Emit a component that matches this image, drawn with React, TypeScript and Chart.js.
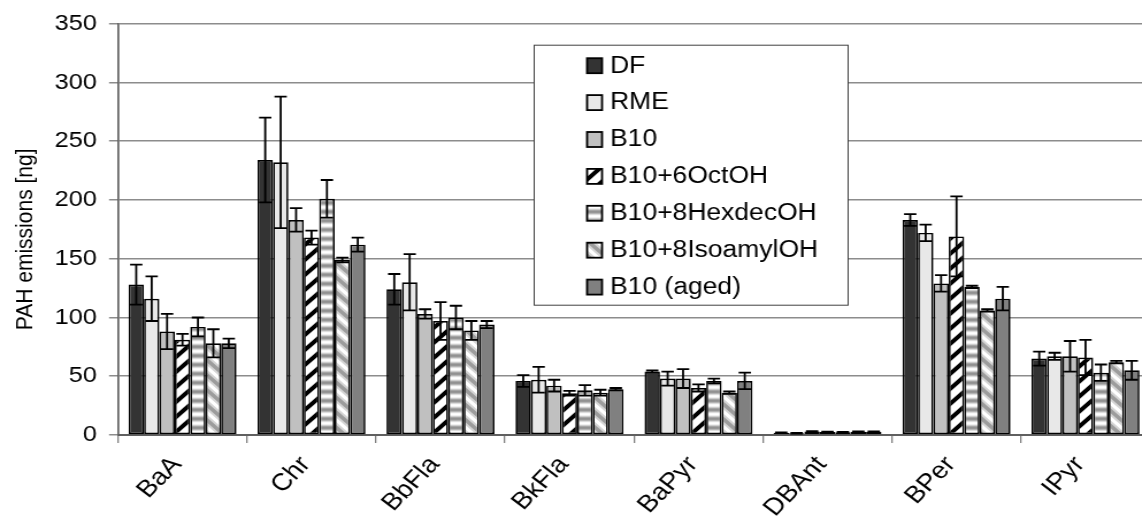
import React, { useEffect, useRef } from 'react';
import { Chart, registerables } from 'chart.js';

Chart.register(...registerables);

const categories = ['BaA', 'Chr', 'BbFla', 'BkFla', 'BaPyr', 'DBAnt', 'BPer', 'IPyr'];
const seriesNames = ['DF', 'RME', 'B10', 'B10+6OctOH', 'B10+8HexdecOH', 'B10+8IsoamylOH', 'B10 (aged)'];
const yAxisTitle = 'PAH emissions [ng]';

const dfValues = [128, 234, 124, 46, 54, 2, 183, 65];
const dfErrors = [17, 36, 13, 5, 1, 0.3, 5, 6];
const rmeValues = [116, 232, 130, 47, 48, 1.5, 172, 67];
const rmeErrors = [19, 56, 24, 11, 6, 0.3, 7, 3];
const b10Values = [88, 183, 103, 42, 48, 3, 129, 67];
const b10Errors = [15, 10, 4, 5, 8, 0.3, 7, 13];
const octValues = [81, 168, 97, 35.5, 40, 2.5, 169, 66];
const octErrors = [5, 6, 16, 2, 3, 0.3, 34, 15];
const hexValues = [92, 201, 100, 38, 46, 2.3, 126, 53];
const hexErrors = [8, 16, 10, 4.5, 2, 0.3, 1, 7];
const isoValues = [78, 149, 89, 36, 36, 2.8, 106, 62];
const isoErrors = [12, 2, 8, 2.5, 1, 0.3, 1, 1];
const agedValues = [78, 162, 94, 39, 46, 2.8, 116, 55];
const agedErrors = [4, 6, 3, 1, 7, 0.3, 10, 8];

const yMin = 0;
const yMax = 350;
const yStep = 50;

const FONT = "'Liberation Sans', Arial, sans-serif";

// The reference looks horizontally stretched: draw at a narrower intrinsic width, show wider.
const STRETCH = 1.15;
const SHOW_W = 1150;
const SHOW_H = 529;
const CANVAS_W = Math.round(SHOW_W / STRETCH);
const LABEL_ROT = (Math.atan(STRETCH) * 180) / Math.PI; // appears as 45deg after stretch

function makeCanvas(w: number, h: number) {
  const c = document.createElement('canvas');
  c.width = w;
  c.height = h;
  return c;
}

function diagPattern(ctx: CanvasRenderingContext2D, dir: 'up' | 'down', color: string, lw: number, soft: string | null) {
  const s = 15;
  const c = makeCanvas(s, s);
  const g = c.getContext('2d')!;
  g.fillStyle = '#ffffff';
  g.fillRect(0, 0, s, s);
  const drawLines = (col: string, w: number) => {
    g.strokeStyle = col;
    g.lineWidth = w;
    g.beginPath();
    for (let k = -1; k <= 1; k++) {
      if (dir === 'up') {
        g.moveTo(-s + k * s, 2 * s);
        g.lineTo(2 * s + k * s, -s);
      } else {
        g.moveTo(-s + k * s, -s);
        g.lineTo(2 * s + k * s, 2 * s);
      }
    }
    g.stroke();
  };
  if (soft) drawLines(soft, lw + 4);
  drawLines(color, lw);
  return ctx.createPattern(c, 'repeat')!;
}

function hStripePattern(ctx: CanvasRenderingContext2D) {
  const rows = [255, 240, 205, 165, 145, 150, 180, 220, 250];
  const c = makeCanvas(4, rows.length);
  const g = c.getContext('2d')!;
  rows.forEach((v, i) => {
    g.fillStyle = `rgb(${v},${v},${v})`;
    g.fillRect(0, i, 4, 1);
  });
  return ctx.createPattern(c, 'repeat')!;
}

export default function App() {
  const ref = useRef<HTMLCanvasElement>(null);

  useEffect(() => {
    const canvas = ref.current!;
    const ctx = canvas.getContext('2d')!;

    const fills: (string | CanvasPattern)[] = [
      '#333333',
      '#e8e8e8',
      '#c0c0c0',
      diagPattern(ctx, 'up', '#000000', 4, null),
      hStripePattern(ctx),
      diagPattern(ctx, 'down', '#9c9c9c', 3.5, '#d4d4d4'),
      '#808080',
    ];
    const valueSets = [dfValues, rmeValues, b10Values, octValues, hexValues, isoValues, agedValues];
    const errorSets = [dfErrors, rmeErrors, b10Errors, octErrors, hexErrors, isoErrors, agedErrors];

    const errorBarPlugin = {
      id: 'errorBars',
      afterDatasetsDraw(chart: any) {
        const c = chart.ctx;
        const ys = chart.scales.y;
        chart.data.datasets.forEach((ds: any, i: number) => {
          const meta = chart.getDatasetMeta(i);
          meta.data.forEach((bar: any, j: number) => {
            const v = ds.data[j];
            const e = errorSets[i][j];
            const hi = ys.getPixelForValue(v + e);
            const lo = ys.getPixelForValue(Math.max(0, v - e));
            const half = bar.width * 0.4;
            c.save();
            c.strokeStyle = '#000';
            c.lineWidth = 1.8;
            c.beginPath();
            c.moveTo(bar.x, hi);
            c.lineTo(bar.x, lo);
            c.moveTo(bar.x - half, hi);
            c.lineTo(bar.x + half, hi);
            c.moveTo(bar.x - half, lo);
            c.lineTo(bar.x + half, lo);
            c.stroke();
            c.restore();
          });
        });
      },
    };

    const overlayPlugin = {
      id: 'overlay',
      afterDraw(chart: any) {
        const c = chart.ctx;
        const ca = chart.chartArea;
        // y-axis title
        c.save();
        c.translate(22.5, (ca.top + ca.bottom) / 2 + 10);
        c.rotate(-Math.PI / 2);
        c.fillStyle = '#000';
        c.font = `21px ${FONT}`;
        c.textAlign = 'center';
        c.textBaseline = 'middle';
        c.fillText(yAxisTitle, 0, 0);
        c.restore();

        // legend box
        const bx = Math.round(ca.left + 361.7) + 0.5;
        const by = ca.top + 21.5;
        const bw = 273;
        const bh = 260;
        c.save();
        c.fillStyle = '#ffffff';
        c.fillRect(bx, by, bw, bh);
        c.strokeStyle = '#404040';
        c.lineWidth = 1;
        c.strokeRect(bx, by, bw, bh);
        seriesNames.forEach((name, i) => {
          const cy = by + 20 + 36.9 * i;
          c.fillStyle = fills[i];
          c.fillRect(bx + 46, cy - 7, 13, 15);
          c.lineWidth = 1.8;
          c.strokeStyle = '#000';
          c.strokeRect(bx + 46, cy - 7, 13, 15);
          c.fillStyle = '#000';
          c.font = `23px ${FONT}`;
          c.textBaseline = 'middle';
          c.textAlign = 'left';
          c.fillText(name, bx + 66, cy + 1);
        });
        c.restore();
      },
    };

    const chart = new Chart(canvas, {
      type: 'bar',
      data: {
        labels: categories,
        datasets: seriesNames.map((name, i) => ({
          label: name,
          data: valueSets[i],
          backgroundColor: fills[i] as any,
          borderColor: '#000000',
          borderWidth: 1.7,
          borderSkipped: false,
          categoryPercentage: 0.837,
          barPercentage: 1,
        })),
      },
      options: {
        animation: false,
        responsive: false,
        devicePixelRatio: 1,
        layout: { padding: { top: 23.5, left: 0, right: 0, bottom: 0 } },
        plugins: {
          legend: { display: false },
          tooltip: { enabled: false },
        },
        scales: {
          x: {
            grid: {
              display: true,
              drawOnChartArea: false,
              offset: true,
              tickLength: 8,
              color: '#808080',
              lineWidth: 1.3,
            },
            border: { color: '#606060', width: 2 },
            ticks: {
              font: { family: FONT, size: 24 },
              color: '#000',
              minRotation: LABEL_ROT,
              maxRotation: LABEL_ROT,
              padding: 8,
              labelOffset: -5,
              autoSkip: false,
            },
            afterFit: (s: any) => {
              s.height = 94;
            },
          },
          y: {
            min: yMin,
            max: yMax,
            ticks: {
              stepSize: yStep,
              font: { family: FONT, size: 22 },
              color: '#000',
              padding: 10.5,
            },
            grid: { color: '#8c8c8c', lineWidth: 1.5, tickLength: 7.8 },
            border: { color: '#606060', width: 1.7 },
            afterFit: (s: any) => {
              s.width = 118 / STRETCH;
            },
          },
        },
      } as any,
      plugins: [errorBarPlugin, overlayPlugin],
    });

    return () => chart.destroy();
  }, []);

  return (
    <div style={{ position: 'fixed', left: 0, top: 0, width: 1142, height: SHOW_H, overflow: 'hidden', background: '#fff' }}>
      <canvas
        ref={ref}
        width={CANVAS_W}
        height={SHOW_H}
        style={{ width: SHOW_W, height: SHOW_H, display: 'block' }}
      />
    </div>
  );
}
